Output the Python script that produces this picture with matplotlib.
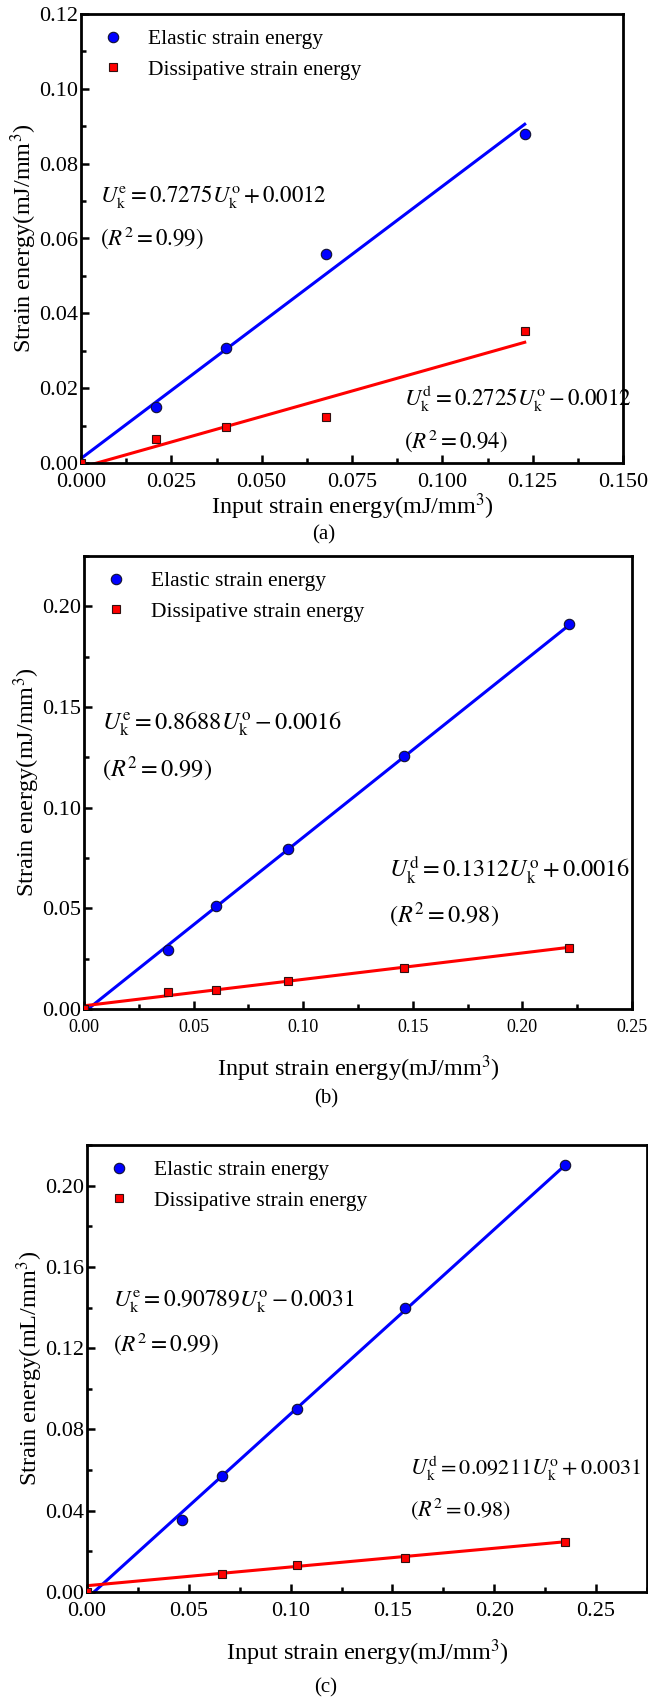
import matplotlib
matplotlib.use("Agg")
import matplotlib.pyplot as plt
from matplotlib.ticker import MultipleLocator, FormatStrFormatter

plt.rcParams['font.family'] = ['Liberation Serif', 'DejaVu Serif']
plt.rcParams['mathtext.fontset'] = 'stix'

W, H = 648, 1705

# panel (a)
a_in = [0.0208, 0.0400, 0.0678, 0.1228]
a_el = [0.0151, 0.0308, 0.0558, 0.0879]
a_dis_in = [0.0, 0.0208, 0.0400, 0.0678, 0.1228]
a_dis = [0.0, 0.0064, 0.0096, 0.0124, 0.0352]
a_fit_e = (0.7275, 0.0012)
a_fit_d = (0.2725, -0.0012)

# panel (b)
b_in = [0.0385, 0.0604, 0.0930, 0.1458, 0.2211]
b_el = [0.0294, 0.0511, 0.0796, 0.1256, 0.1912]
b_dis_in = [0.0, 0.0385, 0.0604, 0.0930, 0.1458, 0.2211]
b_dis = [0.0, 0.0085, 0.0096, 0.0138, 0.0206, 0.0303]
b_fit_e = (0.8688, -0.0016)
b_fit_d = (0.1312, 0.0016)

# panel (c)
c_in = [0.0467, 0.0661, 0.1030, 0.1561, 0.2348]
c_el = [0.0352, 0.0573, 0.0901, 0.1397, 0.2103]
c_dis_in = [0.0, 0.0661, 0.1030, 0.1561, 0.2348]
c_dis = [0.0, 0.0088, 0.0132, 0.0165, 0.0245]
c_fit_e = (0.90789, -0.0031)
c_fit_d = (0.09211, 0.0031)

eq_a = [r'$U_{\mathrm{k}}^{\mathrm{e}} = 0.7275U_{\mathrm{k}}^{\mathrm{o}} + 0.0012$', r'$(R^2 = 0.99)$',
        r'$U_{\mathrm{k}}^{\mathrm{d}} = 0.2725U_{\mathrm{k}}^{\mathrm{o}} - 0.0012$', r'$(R^2 = 0.94)$']
eq_b = [r'$U_{\mathrm{k}}^{\mathrm{e}} = 0.8688U_{\mathrm{k}}^{\mathrm{o}} - 0.0016$', r'$(R^2 = 0.99)$',
        r'$U_{\mathrm{k}}^{\mathrm{d}} = 0.1312U_{\mathrm{k}}^{\mathrm{o}} + 0.0016$', r'$(R^2 = 0.98)$']
eq_c = [r'$U_{\mathrm{k}}^{\mathrm{e}} = 0.90789U_{\mathrm{k}}^{\mathrm{o}} - 0.0031$', r'$(R^2 = 0.99)$',
        r'$U_{\mathrm{k}}^{\mathrm{d}} = 0.09211U_{\mathrm{k}}^{\mathrm{o}} + 0.0031$', r'$(R^2 = 0.98)$']

fig = plt.figure(figsize=(W / 100, H / 100), dpi=100)


def px_axes(l, t, r, b):
    return fig.add_axes([l / W, 1 - b / H, (r - l) / W, (b - t) / H])


def ftext(x, y, s, size, **kw):
    fig.text(x / W, 1 - y / H, s, fontsize=size, va='center', **kw)


def panel(ax, xin, el, din, dis, fe, fd, xlim, ylim, xmaj, ymaj, xfmt, yfmt, xts, yts):
    xe = [0.0, xin[-1]]
    ax.plot(xe, [fe[0] * v + fe[1] for v in xe], color='#0000ff', lw=2.2, zorder=2)
    ax.plot(xe, [fd[0] * v + fd[1] for v in xe], color='#ff0000', lw=2.2, zorder=2)
    ax.plot(xin, el, 'o', color='#0000ff', mec='#101030', mew=0.8, ms=7.5, zorder=3,
            label='Elastic strain energy')
    ax.plot(din, dis, 's', color='#ff0000', mec='#301010', mew=0.8, ms=6, zorder=3,
            label='Dissipative strain energy')
    ax.set_xlim(*xlim)
    ax.set_ylim(*ylim)
    ax.xaxis.set_major_locator(MultipleLocator(xmaj))
    ax.xaxis.set_minor_locator(MultipleLocator(xmaj / 2))
    ax.yaxis.set_major_locator(MultipleLocator(ymaj))
    ax.yaxis.set_minor_locator(MultipleLocator(ymaj / 2))
    ax.xaxis.set_major_formatter(FormatStrFormatter(xfmt))
    ax.yaxis.set_major_formatter(FormatStrFormatter(yfmt))
    ax.tick_params(which='both', direction='in', width=1.8)
    ax.tick_params(which='major', length=6)
    ax.tick_params(which='minor', length=3.5)
    ax.tick_params(axis='x', labelsize=xts, pad=7)
    ax.tick_params(axis='y', labelsize=yts, pad=2)
    for sp in ax.spines.values():
        sp.set_linewidth(2)
    ax.legend(loc='upper left', frameon=False, fontsize=15.5, handletextpad=0.8,
              borderaxespad=0.2, labelspacing=0.5, borderpad=0.5, handlelength=1.6)


ax1 = px_axes(81, 14, 623, 463)
panel(ax1, a_in, a_el, a_dis_in, a_dis, a_fit_e, a_fit_d, (0, 0.15), (0, 0.12),
      0.025, 0.02, '%.3f', '%.2f', 16, 16)
ax1.set_xlabel('Input strain energy(mJ/mm$^3$)', fontsize=17.5, labelpad=0)
ax1.set_ylabel('Strain energy(mJ/mm$^3$)', fontsize=17.5, labelpad=0)
ftext(100, 197, eq_a[0], 16.5)
ftext(100, 238, eq_a[1], 16.5)
ftext(404, 399, eq_a[2], 16.5)
ftext(404, 441, eq_a[3], 16.5)
ftext(324, 535, '(a)', 15, ha='center')

ax2 = px_axes(84, 556, 632, 1009)
panel(ax2, b_in, b_el, b_dis_in, b_dis, b_fit_e, b_fit_d, (0, 0.25), (0, 0.225),
      0.05, 0.05, '%.2f', '%.2f', 13, 16)
ax2.set_xlabel('Input strain energy(mJ/mm$^3$)', fontsize=17.5, labelpad=13)
ax2.set_ylabel('Strain energy(mJ/mm$^3$)', fontsize=17.5, labelpad=0)
ftext(102, 724, eq_b[0], 17.5)
ftext(102, 769, eq_b[1], 17.5)
ftext(389, 870, eq_b[2], 17.5)
ftext(389, 915, eq_b[3], 17.5)
ftext(326, 1099, '(b)', 15, ha='center')

ax3 = px_axes(87, 1145, 647, 1592)
panel(ax3, c_in, c_el, c_dis_in, c_dis, c_fit_e, c_fit_d, (0, 0.275), (0, 0.22),
      0.05, 0.04, '%.2f', '%.2f', 16, 16)
ax3.set_xlabel('Input strain energy(mJ/mm$^3$)', fontsize=17.5, labelpad=12)
ax3.set_ylabel('Strain energy(mL/mm$^3$)', fontsize=17.5, labelpad=0)
ftext(113, 1302, eq_c[0], 16.8)
ftext(113, 1344, eq_c[1], 16.8)
ftext(410, 1468, eq_c[2], 16)
ftext(410, 1509, eq_c[3], 16)
ftext(326, 1688, '(c)', 15, ha='center')

fig.savefig('out.png', dpi=100)
